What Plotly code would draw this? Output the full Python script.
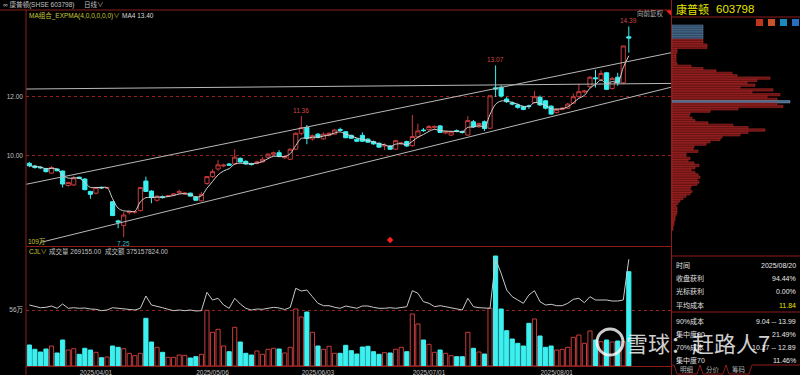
import numpy as np
import pandas as pd
import plotly.graph_objects as go

W, H = 800, 375
FONT = "Liberation Sans, Noto Sans CJK SC, sans-serif"
CJK = "Noto Sans CJK SC, sans-serif"

# ---------------- data ----------------
holidays = ['2025-04-04', '2025-05-01', '2025-05-02', '2025-05-05', '2025-06-02']
dates = pd.bdate_range('2025-03-14', '2025-08-20', freq='C', holidays=holidays)
date_labels = [d.strftime('%Y/%m/%d') for d in dates]
tick_dates = ['2025/04/01', '2025/05/06', '2025/06/03', '2025/07/01', '2025/08/01']

open_ = [9.75, 9.66, 9.62, 9.57, 9.42, 9.56, 9.49, 9.00, 9.02, 9.28,
         9.22, 8.80, 8.74, 8.94, 8.91, 8.45, 7.80, 7.64, 8.08, 8.10,
         8.15, 9.15, 8.81, 8.50, 8.62, 8.63, 8.68, 8.75, 8.71, 8.74,
         8.61, 8.48, 9.07, 9.30, 9.56, 9.66, 9.73, 9.73, 9.92, 9.82,
         9.74, 9.75, 9.80, 9.96, 10.06, 10.11, 9.94, 9.89, 10.23, 10.77,
         10.97, 10.58, 10.74, 10.58, 10.70, 10.74, 10.90, 10.82, 10.70, 10.57,
         10.70, 10.57, 10.49, 10.43, 10.34, 10.34, 10.23, 10.42, 10.49, 10.35,
         10.65, 10.88, 10.90, 10.96, 11.02, 10.78, 10.71, 10.86, 10.83, 10.71,
         11.16, 10.99, 11.16, 10.94, 12.31, 12.33, 11.93, 11.80, 11.73, 11.67,
         11.70, 11.81, 11.99, 11.87, 11.69, 11.47, 11.58, 11.62, 11.79, 12.01,
         12.17, 12.35, 12.65, 12.58, 12.82, 12.29, 12.67, 12.48, 14.04]
high = [9.80, 9.70, 9.65, 9.60, 9.66, 9.58, 9.50, 9.12, 9.33, 9.30,
        9.24, 8.82, 8.95, 8.96, 8.95, 8.47, 7.84, 8.10, 8.14, 8.14,
        8.95, 9.30, 8.84, 8.66, 8.66, 8.68, 8.72, 8.86, 8.78, 8.76,
        8.63, 8.78, 9.32, 9.55, 9.87, 9.74, 9.76, 10.23, 9.95, 9.85,
        9.77, 9.84, 9.96, 10.10, 10.15, 10.20, 10.00, 10.26, 10.80, 11.36,
        11.05, 10.72, 10.78, 10.80, 10.80, 10.92, 10.96, 10.85, 10.72, 10.60,
        10.80, 10.60, 10.52, 10.46, 10.43, 10.37, 10.55, 10.48, 10.52, 11.39,
        11.10, 10.95, 11.05, 11.04, 11.05, 10.86, 10.86, 10.90, 10.86, 11.35,
        11.22, 11.14, 11.20, 12.04, 13.07, 12.40, 12.00, 11.85, 11.78, 11.70,
        11.74, 12.20, 12.05, 11.90, 11.72, 11.62, 11.66, 11.80, 12.12, 12.45,
        12.24, 12.70, 12.92, 12.90, 12.85, 12.68, 12.82, 13.73, 14.39]
low = [9.62, 9.57, 9.57, 9.44, 9.40, 9.48, 8.93, 8.96, 8.98, 9.22,
       8.83, 8.55, 8.70, 8.88, 8.88, 7.97, 7.55, 7.25, 8.02, 8.04,
       8.12, 8.78, 8.40, 8.45, 8.56, 8.60, 8.64, 8.72, 8.68, 8.62,
       8.48, 8.46, 9.02, 9.26, 9.50, 9.62, 9.66, 9.70, 9.78, 9.70,
       9.68, 9.72, 9.78, 9.92, 10.02, 9.96, 9.90, 9.86, 10.20, 10.70,
       10.40, 10.52, 10.60, 10.55, 10.66, 10.72, 10.84, 10.60, 10.58, 10.47,
       10.48, 10.44, 10.38, 10.28, 10.20, 10.20, 10.20, 10.38, 10.30, 10.32,
       10.60, 10.82, 10.86, 10.92, 10.78, 10.74, 10.68, 10.80, 10.76, 10.68,
       10.96, 10.95, 10.85, 10.92, 12.00, 11.98, 11.80, 11.72, 11.60, 11.55,
       11.60, 11.78, 11.70, 11.58, 11.40, 11.44, 11.55, 11.60, 11.76, 11.98,
       12.12, 12.30, 12.32, 12.55, 12.24, 12.25, 12.38, 12.45, 13.50]
close = [9.67, 9.61, 9.60, 9.47, 9.61, 9.50, 9.05, 9.10, 9.26, 9.24,
         8.86, 8.70, 8.93, 8.92, 8.93, 7.98, 7.76, 8.00, 8.12, 8.11,
         8.93, 8.80, 8.59, 8.64, 8.59, 8.66, 8.71, 8.79, 8.74, 8.64,
         8.50, 8.70, 9.30, 9.47, 9.70, 9.69, 9.69, 9.96, 9.80, 9.73,
         9.71, 9.80, 9.89, 10.06, 10.11, 9.98, 9.97, 10.23, 10.77, 10.96,
         10.60, 10.69, 10.63, 10.74, 10.77, 10.88, 10.87, 10.62, 10.60, 10.50,
         10.50, 10.47, 10.41, 10.30, 10.35, 10.23, 10.52, 10.44, 10.34, 10.66,
         10.85, 10.86, 11.00, 11.00, 10.80, 10.82, 10.82, 10.83, 10.80, 11.20,
         10.99, 11.10, 10.93, 12.04, 12.27, 12.03, 11.84, 11.76, 11.65, 11.58,
         11.68, 12.01, 11.73, 11.62, 11.42, 11.58, 11.62, 11.76, 12.01, 12.18,
         12.20, 12.67, 12.62, 12.80, 12.26, 12.63, 12.48, 13.73, 14.00]
# volume, unit: 万
volume = [21, 16.7, 14, 17, 20, 13, 26, 16, 17.3, 11.7,
          17.7, 16, 13.7, 8.3, 9, 20, 18.7, 17.3, 12.7, 10.3,
          12.7, 47.7, 24, 18.7, 13.7, 8.7, 8.7, 11, 10.7, 8,
          9.3, 11.7, 55.7, 33.7, 36.7, 20, 14.3, 38.7, 24, 12.7,
          11, 15, 11.7, 16.7, 17.7, 17, 13, 18.7, 57, 49,
          54, 33.7, 20, 16.7, 19.7, 12.7, 12.7, 20.7, 15.3, 12,
          19, 19.7, 14.3, 11.7, 13.3, 13, 16.7, 18.7, 14.3, 52,
          42, 26, 21.7, 13.7, 16, 12.7, 10.3, 9.3, 9.3, 33.7,
          17.7, 14, 12, 57.7, 110, 57, 35.3, 27, 22.7, 20,
          42.7, 47, 30, 18.7, 20, 16, 16.7, 18.7, 28.7, 31,
          22.7, 35, 26, 24.3, 26, 24, 25, 24.3, 94.3]
# CJL indicator line (same panel units)
cjl_line = [61, 59.3, 58.3, 58.7, 60, 57.7, 62, 57.7, 58.3, 57.7,
            58, 57, 56.7, 55.3, 56, 58.3, 57.7, 57.3, 56.7, 56,
            57.7, 70, 61, 59.3, 58.3, 56.7, 55.3, 56, 55.3, 56,
            55, 55.3, 73.7, 66, 67.7, 61, 57.7, 67.7, 62, 57.7,
            56, 57, 56.7, 57.7, 58.7, 58, 56.5, 58.5, 77.7, 75,
            76, 69.3, 62.7, 60.3, 60.3, 58.7, 57.7, 60, 58.7, 57.7,
            60, 60, 58.7, 57.7, 57.7, 58.3, 57.7, 58.7, 59.3, 75.3,
            72.7, 64.3, 62.7, 59.3, 60.3, 59.3, 58.3, 57, 56, 67.7,
            59.3, 58.3, 57.7, 57.7, 106.7, 92.7, 76, 69.3, 66, 62.7,
            71, 75.3, 64.3, 61, 61.7, 60.3, 60.3, 62.7, 66.7, 67.7,
            63.3, 69.3, 66, 66, 66, 65, 65, 66, 106.7]

# trend lines: (index, price) endpoints
upper_line = [(-0.6, 9.04), (115.6, 13.50)]
lower_line = [(2.0, 7.07), (115.6, 12.33)]
flat_line = [(-0.6, 12.27), (115.6, 12.46)]
event_idx = 65

# chip distribution (price rows, relative amount)
chip_top, chip_step = 14.40, 0.08
chip_amount = [31, 31, 31, 31, 31, 31, 31, 31, 35, 35, 5, 5,
               4, 4, 4, 4, 5, 19, 31, 44, 60, 65, 98, 85,
               75, 83, 68, 101, 80, 108, 95, 105, 118, 105, 111, 66,
               38, 18, 17, 20, 23, 36, 61, 76, 93, 76, 68, 50,
               48, 38, 34, 22, 21, 26, 14, 14, 18, 16, 22, 27,
               23, 19, 23, 26, 28, 25, 27, 25, 19, 18, 20, 18,
               14, 11, 8, 6, 4, 5, 5, 5, 4, 3, 3, 2, 2, 1, 1]
chip_price = [round(chip_top - chip_step * k, 2) for k in range(len(chip_amount))]
avg_cost = 11.84

info_rows1 = [("时间", "2025/08/20"), ("收盘获利", "94.44%"), ("光标获利", "0.00%"), ("平均成本", "11.84")]
info_rows2 = [("90%成本", "9.04 -- 13.99"), ("集中度90", "21.49%"), ("70%成本", "10.27 -- 12.89"), ("集中度70", "11.46%")]

# ---------------- style ----------------
RED = '#c83c3c'
CYAN = '#3cf0f0'
FRAME = '#8c1c1c'
GRAY = '#c0c0c0'
YEL = '#e6e600'

idx = list(range(len(close)))
ema4 = pd.Series(close).ewm(span=4, adjust=False).mean()
up = [c >= o for o, c in zip(open_, close)]

fig = go.Figure()

fig.add_trace(go.Candlestick(
    x=idx, open=open_, high=high, low=low, close=close,
    increasing=dict(line=dict(color=RED, width=1), fillcolor='#000000'),
    decreasing=dict(line=dict(color=CYAN, width=1), fillcolor=CYAN),
    whiskerwidth=0, xaxis='x', yaxis='y', showlegend=False, hoverinfo='skip'))

fig.add_trace(go.Scatter(x=idx, y=ema4, mode='lines', xaxis='x', yaxis='y',
                         line=dict(color='#d0d0d0', width=1, shape='spline'),
                         showlegend=False, hoverinfo='skip'))

for ln in (upper_line, lower_line, flat_line):
    fig.add_trace(go.Scatter(x=[p[0] for p in ln], y=[p[1] for p in ln], mode='lines',
                             xaxis='x', yaxis='y', line=dict(color='#b8b8b8', width=1),
                             showlegend=False, hoverinfo='skip'))

fig.add_trace(go.Scatter(x=[event_idx], y=[7.15], mode='markers', xaxis='x', yaxis='y',
                         marker=dict(symbol='diamond', size=5, color='#ff2020'),
                         showlegend=False, hoverinfo='skip'))

fig.add_trace(go.Bar(
    x=idx, y=volume, width=0.75, xaxis='x2', yaxis='y2',
    marker=dict(color=['#000000' if u else CYAN for u in up],
                line=dict(color=[RED if u else CYAN for u in up], width=1)),
    showlegend=False, hoverinfo='skip'))

fig.add_trace(go.Scatter(x=idx, y=cjl_line, mode='lines', xaxis='x2', yaxis='y2',
                         line=dict(color='#c8c8c8', width=1),
                         showlegend=False, hoverinfo='skip'))

close_last = close[-1]
chip_fill = []
chip_edge = []
for p in chip_price:
    if abs(p - avg_cost) < chip_step / 2:
        chip_fill.append('#4a6a88'); chip_edge.append('#7090b0')
    elif p > close_last - chip_step:
        chip_fill.append('#2e4a66'); chip_edge.append('#56789a')
    else:
        chip_fill.append('#6a1414'); chip_edge.append('#b02828')
fig.add_trace(go.Bar(
    x=chip_amount, y=chip_price, orientation='h', width=chip_step, xaxis='x3', yaxis='y3',
    marker=dict(color=chip_fill, line=dict(color=chip_edge, width=0.6)),
    showlegend=False, hoverinfo='skip'))

# ---------------- layout ----------------
def py(y):
    return 1 - y / H

X0, X1 = 26, 671
xr = [-0.6, 115.6]
yr = [6.949, 14.915]
tickvals = [date_labels.index(d) for d in tick_dates]

fig.update_layout(
    width=W, height=H, margin=dict(l=0, r=0, t=0, b=0),
    paper_bgcolor='#000000', plot_bgcolor='#000000',
    boxgap=0.25, boxgroupgap=0, showlegend=False,
    font=dict(family=FONT, size=7, color=GRAY),
    xaxis=dict(domain=[X0 / W, X1 / W], anchor='y', range=xr, showticklabels=False,
               showgrid=False, zeroline=False, rangeslider=dict(visible=False)),
    yaxis=dict(domain=[py(246), py(11)], anchor='x', range=yr,
               tickvals=[10, 12], ticktext=['10.00', '12.00'], ticks='',
               tickfont=dict(size=6.5, color=GRAY), ticklabelstandoff=2,
               showgrid=True, gridcolor='#9a2020', griddash='dot', gridwidth=1, zeroline=False),
    xaxis2=dict(domain=[X0 / W, X1 / W], anchor='y2', range=xr, matches='x',
                tickvals=tickvals, ticktext=tick_dates, ticks='',
                tickfont=dict(size=6.5, color=GRAY), ticklabelstandoff=0,
                showgrid=False, zeroline=False, showline=True, linecolor=FRAME, linewidth=1),
    yaxis2=dict(domain=[py(366), py(247)], anchor='x2', range=[0, 119],
                tickvals=[56], ticktext=['56万'], ticks='',
                tickfont=dict(size=6.5, color=GRAY, family=FONT), ticklabelstandoff=2,
                showgrid=True, gridcolor='#9a2020', griddash='dot', gridwidth=1, zeroline=False),
    xaxis3=dict(domain=[672 / W, 1], anchor='y3', range=[0, 128], visible=False),
    yaxis3=dict(domain=[py(246), py(11)], anchor='x3', range=yr, matches='y', visible=False,
                showgrid=False),
)

shapes = []
def hline(y, x0, x1, color=FRAME, width=1):
    shapes.append(dict(type='line', xref='paper', yref='paper', x0=x0 / W, x1=x1 / W,
                       y0=py(y), y1=py(y), line=dict(color=color, width=width)))
def vline(x, y0, y1, color=FRAME, width=1):
    shapes.append(dict(type='line', xref='paper', yref='paper', x0=x / W, x1=x / W,
                       y0=py(y0), y1=py(y1), line=dict(color=color, width=width)))

hline(10, 0, 671)
hline(246.5, 26, 671)
hline(17, 671, 800)
hline(256, 671, 800)
hline(312, 671, 800)
vline(26, 10, 375)
vline(671.5, 0, 375)
# tabs at bottom of info panel
for tx0, tx1 in [(674, 700), (700, 726), (726, 752)]:
    shapes.append(dict(type='path', xref='paper', yref='paper',
                       path=f'M {tx0 / W},{py(365)} L {(tx0 + 3) / W},{py(374)} L {(tx1 - 3) / W},{py(374)} L {tx1 / W},{py(365)}',
                       line=dict(color=FRAME, width=1)))
hline(365, 671, 674)
hline(365, 752, 800)
# small red triangle near 向前复权
shapes.append(dict(type='path', xref='paper', yref='paper',
                   path=f'M {666 / W},{py(10.5)} L {671 / W},{py(10.5)} L {671 / W},{py(15.5)} Z',
                   fillcolor='#ff2020', line=dict(width=0)))
# toolbar icons
for ix, col in [(756, '#e04020'), (768, '#f06030'), (780, '#20a0e0'), (792, '#3080e0')]:
    shapes.append(dict(type='rect', xref='paper', yref='paper', x0=ix / W, x1=(ix + 7) / W,
                       y0=py(26), y1=py(19), fillcolor=col, line=dict(width=0), opacity=0.85))
# watermark logo ring
shapes.append(dict(type='circle', xref='paper', yref='paper', x0=597 / W, x1=623 / W,
                   y0=py(355), y1=py(329), line=dict(color='rgba(255,255,255,0.8)', width=3)))
fig.update_layout(shapes=shapes)

ann = []
def text(s, x, y, size=6.5, color=GRAY, xanchor='left', family=FONT):
    ann.append(dict(text=s, x=x / W, y=py(y), xref='paper', yref='paper', xanchor=xanchor,
                    yanchor='middle', showarrow=False, font=dict(size=size, color=color, family=family)))

text('∞ 康普顿(SHSE 603798)', 1, 5)
text('日线∨', 82, 5)
text('MA组合_EXPMA(4,0,0,0,0,0)∨', 27, 15, color='#c8c832')
text(f'MA4 {ema4.iloc[-1]:.2f}', 120, 15, color='#d8d8d8')
text('向前复权', 666, 14, color='#b0b0b0', xanchor='right')
text(f'{max(volume) - 1:.0f}万', 26, 242, color='#c8c832')
text('CJL∨', 27, 251, color='#c8c832')
text('成交量 269155.00', 47, 251)
text('成交额 375157824.00', 103, 251)

text('康普顿', 674, 9, size=11, color=YEL, family=CJK)
text('603798', 714, 9, size=11.5, color=YEL)
for i, (k, v) in enumerate(info_rows1):
    yy = 265 + i * 13.4
    text(k, 674, yy, size=7, color='#e0e0e0')
    text(v, 798, yy, size=7, color=YEL if k == '平均成本' else '#e8e8e8', xanchor='right')
for i, (k, v) in enumerate(info_rows2):
    yy = 321 + i * 13
    text(k, 674, yy, size=7, color='#e0e0e0')
    text(v, 798, yy, size=7, color='#e8e8e8', xanchor='right')
for s, xx in [('明细', 687), ('分价', 713), ('筹码', 739)]:
    text(s, xx, 369, size=6.5, color='#b0b0b0', xanchor='center')

text('雪球：赶路人7', 624, 342, size=22, color='rgba(255,255,255,0.82)', family=CJK)

# data-point labels
i_hi = [49, 84, len(close) - 1]
for i in i_hi:
    ann.append(dict(x=i, y=high[i], xref='x', yref='y', text=f'{high[i]:.2f}', showarrow=False,
                    yanchor='bottom', yshift=0, font=dict(size=6.5, color='#d04848', family=FONT)))
i_lo = int(np.argmin(low))
ann.append(dict(x=i_lo, y=low[i_lo], xref='x', yref='y', text=f'{low[i_lo]:.2f}', showarrow=False,
                yanchor='top', yshift=-1, font=dict(size=6.5, color='#38b8c0', family=FONT)))

fig.update_layout(annotations=ann)

fig.write_html("out.html", config={'displayModeBar': False},
               post_script="document.body.style.margin='0';")
